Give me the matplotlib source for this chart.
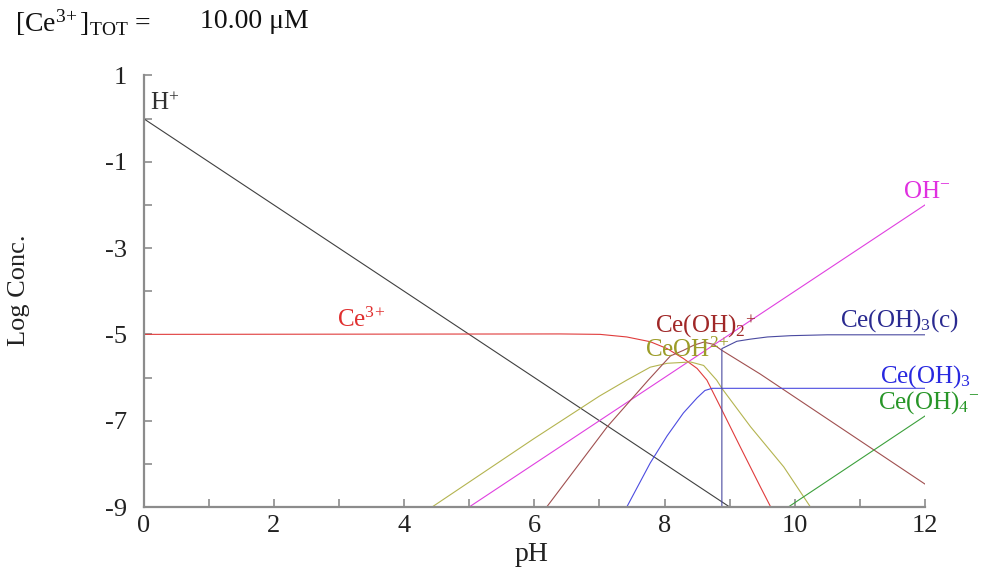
import matplotlib
matplotlib.use("Agg")
import matplotlib.pyplot as plt
from matplotlib.ticker import MultipleLocator

plt.rcParams['font.family'] = ['Liberation Serif', 'DejaVu Serif']
plt.rcParams['mathtext.fontset'] = 'custom'
plt.rcParams['mathtext.rm'] = 'Liberation Serif'
plt.rcParams['mathtext.it'] = 'Liberation Serif:italic'
plt.rcParams['mathtext.bf'] = 'Liberation Serif:bold'

# ---- data (pH, log concentration) ----
h_ph = [0.0, 9.0]
h_log = [0.0, -9.0]

oh_ph = [5.0, 12.0]
oh_log = [-9.0, -2.0]

ce3_ph = [0.0, 6.40, 7.01, 7.42, 7.78, 8.04, 8.29, 8.50, 8.65, 8.88, 9.16, 9.47, 9.63]
ce3_log = [-5.0, -4.99, -5.0, -5.06, -5.17, -5.33, -5.56, -5.79, -6.06, -6.75, -7.60, -8.53, -9.0]

ceoh_ph = [4.43, 5.99, 7.0, 7.42, 7.78, 8.04, 8.40, 8.60, 8.80, 8.88, 9.32, 9.83, 10.24]
ceoh_log = [-9.0, -7.42, -6.43, -6.06, -5.76, -5.67, -5.64, -5.72, -6.06, -6.25, -7.14, -8.07, -9.0]

ceoh2_ph = [6.19, 7.12, 7.75, 8.09, 8.29, 8.45, 8.60, 8.75, 8.88, 9.47, 12.0]
ceoh2_log = [-9.0, -7.14, -6.06, -5.50, -5.37, -5.25, -5.18, -5.23, -5.37, -5.92, -8.47]

ceoh3_ph = [7.42, 7.78, 8.04, 8.29, 8.50, 8.62, 8.73, 12.0]
ceoh3_log = [-9.0, -7.98, -7.35, -6.82, -6.47, -6.30, -6.25, -6.25]

ceoh3c_ph = [8.88, 8.88, 9.11, 9.32, 9.58, 9.94, 10.5, 12.0]
ceoh3c_log = [-9.0, -5.33, -5.16, -5.11, -5.06, -5.03, -5.01, -5.01]

ceoh4_ph = [9.90, 12.0]
ceoh4_log = [-9.0, -6.89]

x_ticks = [0, 2, 4, 6, 8, 10, 12]
y_ticks = [-9, -7, -5, -3, -1, 1]

# ---- figure ----
fig = plt.figure(figsize=(10.03, 5.67), dpi=100)
ax = fig.add_axes([0.1431, 0.1058, 0.7792, 0.7612])

lw = 0.8
ax.plot(h_ph, h_log, color='#404040', lw=lw)
ax.plot(oh_ph, oh_log, color='#e040e0', lw=lw)
ax.plot(ce3_ph, ce3_log, color='#e03c3c', lw=lw)
ax.plot(ceoh_ph, ceoh_log, color='#b4b450', lw=lw)
ax.plot(ceoh2_ph, ceoh2_log, color='#a05050', lw=lw)
ax.plot(ceoh3_ph, ceoh3_log, color='#4c4ce0', lw=lw)
ax.plot(ceoh3c_ph, ceoh3c_log, color='#4a4aa0', lw=lw)
ax.plot(ceoh4_ph, ceoh4_log, color='#3ca03c', lw=lw)

fs = 18
ax.text(0.10, 0.35, r'H$^{+}$', color='#303030', fontsize=fs, va='center', ha='left')
ax.text(2.97, -4.67, r'Ce$^{3\!+}$', color='#e03030', fontsize=fs, va='center', ha='left')
ax.text(7.86, -4.81, r'Ce(OH)$_{2}$$^{+}$', color='#a02828', fontsize=fs, va='center', ha='left')
ax.text(7.70, -5.37, r'CeOH$^{2\!+}$', color='#9c9c28', fontsize=fs, va='center', ha='left')
ax.text(10.70, -4.67, r'Ce(OH)$_{3}$(c)', color='#2a2a90', fontsize=fs, va='center', ha='left')
ax.text(11.31, -5.97, r'Ce(OH)$_{3}$', color='#2828e0', fontsize=fs, va='center', ha='left')
ax.text(11.27, -6.59, r'Ce(OH)$_{4}$$^{-}$', color='#289628', fontsize=fs, va='center', ha='left')
ax.text(11.66, -1.69, r'OH$^{-}$', color='#e030e0', fontsize=fs, va='center', ha='left')

ax.set_xlim(0, 12)
ax.set_ylim(-9, 1)
ax.set_xticks(x_ticks)
ax.set_yticks(y_ticks)
ax.xaxis.set_minor_locator(MultipleLocator(1))
ax.yaxis.set_minor_locator(MultipleLocator(1))

for s in ['top', 'right']:
    ax.spines[s].set_visible(False)
for s in ['left', 'bottom']:
    ax.spines[s].set_color('#8c8c8c')
    ax.spines[s].set_linewidth(1.6)

ax.tick_params(axis='both', which='both', direction='in', color='#8c8c8c',
               width=1.2, labelsize=19, labelcolor='#222222')
ax.tick_params(axis='both', which='major', length=6)
ax.tick_params(axis='both', which='minor', length=6)
ax.tick_params(axis='x', pad=6)
ax.tick_params(axis='y', pad=12)
ax.set_yticklabels([str(v) for v in y_ticks])

ax.set_xlabel('pH', fontsize=20, color='#222222')
ax.set_ylabel('Log Conc.', fontsize=19, color='#222222')
ax.xaxis.set_label_coords(0.496, -0.082)
ax.yaxis.set_label_coords(-0.145, 0.503)

fig.text(15 / 1003, 1 - 23 / 567, r'[Ce$^{3\!+}$]$_{\mathrm{TOT}}$ =',
         fontsize=20, color='#111111', va='center', ha='left')
fig.text(200 / 1003, 1 - 22 / 567, '10.00 μM',
         fontsize=20, color='#111111', va='center', ha='left')

fig.savefig('out.png', dpi=100)
